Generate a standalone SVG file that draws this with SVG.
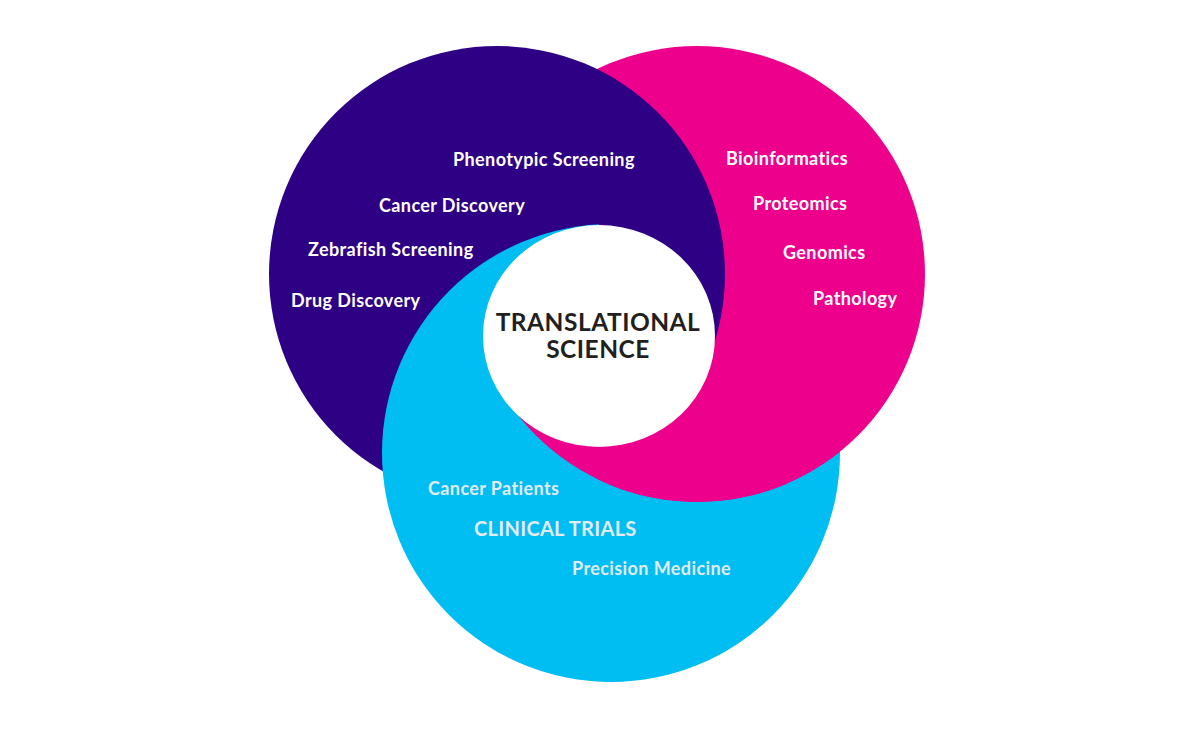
<svg xmlns="http://www.w3.org/2000/svg" width="1190" height="733" viewBox="0 0 1190 733">
  <style>
    .lbl { font-family: Lato, "Open Sans", "Liberation Sans", sans-serif; font-weight: 700; font-size: 18px; letter-spacing: 0.4px; fill: #ffffff; }
    .lt { fill: #e2ebef; }
    .big { font-size: 20px; letter-spacing: 0.3px; }
    .center { font-family: Lato, "Open Sans", "Liberation Sans", sans-serif; font-weight: 700; font-size: 24.5px; letter-spacing: 0.5px; fill: #231f20; }
    .purple { fill: #2e0084; }
    .pink { fill: #ec008c; }
    .cyan { fill: #00bdf2; }
  </style>
  <defs>
    <clipPath id="cPurple"><circle cx="497" cy="274" r="228"/></clipPath>
    <clipPath id="cPink"><circle cx="697" cy="274" r="228"/></clipPath>
    <clipPath id="cCyan"><circle cx="611" cy="453" r="229"/></clipPath>
    <clipPath id="cR"><path d="M599,336 L599,-1000 L2200,-1000 L2200,1500 L-167,979 Z"/></clipPath>
  </defs>
  <rect width="1190" height="733" fill="#ffffff"/>
  <g id="circles">
    <g id="cyan-circle"><circle class="cyan" cx="611" cy="453" r="229"/></g>
    <g id="pink-circle"><circle class="pink" cx="697" cy="274" r="228"/></g>
    <g id="purple-circle"><circle class="purple" cx="497" cy="274" r="228"/></g>
    <!-- cyan over purple -->
    <g clip-path="url(#cPurple)"><circle class="cyan" cx="611" cy="453" r="229"/></g>
    <g clip-path="url(#cCyan)"><path d="M382.6,471.2 A228,228 0 0 0 596,479.2" fill="none" stroke="#00bdf2" stroke-width="2"/></g>
    <!-- pink over cyan -->
    <g clip-path="url(#cR)"><g clip-path="url(#cCyan)"><circle class="pink" cx="697" cy="274" r="228"/></g></g>
    <!-- purple over pink inside the triple overlap -->
    <g clip-path="url(#cPurple)"><g clip-path="url(#cPink)"><g clip-path="url(#cCyan)">
      <path class="purple" d="M599,336 L599,-1000 L2200,-1000 L2200,979 L1365,979 Z"/>
    </g></g></g>
    <g clip-path="url(#cPurple)"><path d="M609,224 A229,229 0 0 1 724.1,253.9" fill="none" stroke="#2e0084" stroke-width="2"/></g>
    <g id="center-circle"><ellipse cx="599" cy="336" rx="116" ry="111" fill="#ffffff"/></g>
  </g>
  <g id="purple-labels">
    <text class="lbl" x="453" y="166">Phenotypic Screening</text>
    <text class="lbl" x="379" y="212">Cancer Discovery</text>
    <text class="lbl" x="308" y="256">Zebrafish Screening</text>
    <text class="lbl" x="291" y="307">Drug Discovery</text>
  </g>
  <g id="pink-labels">
    <text class="lbl" x="726" y="165">Bioinformatics</text>
    <text class="lbl" x="753" y="210">Proteomics</text>
    <text class="lbl" x="783" y="259">Genomics</text>
    <text class="lbl" x="813" y="305">Pathology</text>
  </g>
  <g id="cyan-labels">
    <text class="lbl lt" x="428" y="495">Cancer Patients</text>
    <text class="lbl lt big" x="474" y="536">CLINICAL TRIALS</text>
    <text class="lbl lt" x="572" y="575">Precision Medicine</text>
  </g>
  <g id="center-label">
    <text class="center" x="598" y="331" text-anchor="middle">TRANSLATIONAL</text>
    <text class="center" x="598" y="358" text-anchor="middle">SCIENCE</text>
  </g>
</svg>
